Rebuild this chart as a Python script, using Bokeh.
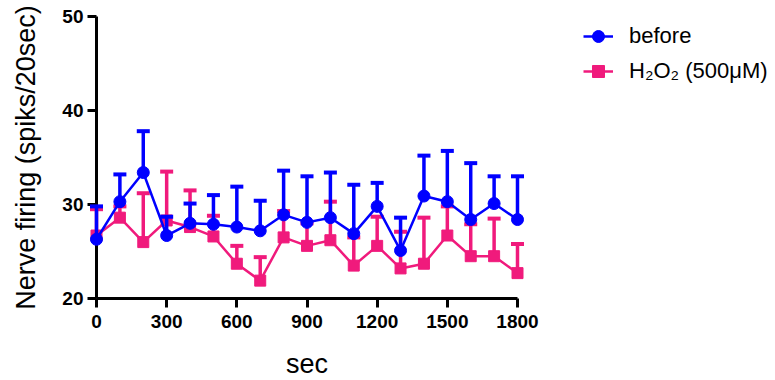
from bokeh.plotting import figure
from bokeh.models import Range1d, FixedTicker, Legend, LegendItem, ColumnDataSource
from bokeh.embed import file_html
from bokeh.resources import INLINE

secs = [0, 100, 200, 300, 400, 500, 600, 700, 800, 900, 1000, 1100, 1200, 1300, 1400, 1500, 1600, 1700, 1800]
before_mean = [26.3, 30.3, 33.4, 26.7, 28.0, 27.9, 27.6, 27.2, 28.9, 28.1, 28.6, 26.9, 29.8, 25.1, 30.9, 30.3, 28.4, 30.1, 28.4]
before_sd = [3.5, 2.9, 4.4, 2.0, 2.1, 3.1, 4.3, 3.2, 4.7, 4.9, 4.8, 5.2, 2.5, 3.5, 4.3, 5.4, 6.0, 2.9, 4.6]
h2o2_mean = [26.7, 28.6, 26.0, 28.3, 27.6, 26.6, 23.7, 21.9, 26.5, 25.6, 26.2, 23.5, 25.6, 23.2, 23.7, 26.7, 24.5, 24.5, 22.7]
h2o2_sd = [2.8, 1.2, 5.2, 5.2, 3.9, 2.2, 1.9, 2.5, 2.8, 2.4, 4.1, 3.0, 3.1, 3.9, 4.9, 3.1, 3.4, 4.0, 3.1]
x_ticks = [0, 300, 600, 900, 1200, 1500, 1800]
y_ticks = [20, 30, 40, 50]
labels = ["before", "H\u2082O\u2082 (500\u03bcM)"]

BLUE = "#0000FF"
PINK = "#F01A7C"
FONT = "Liberation Sans"

p = figure(frame_width=421, frame_height=282, output_backend="svg", toolbar_location=None,
           x_range=Range1d(0, 1800), y_range=Range1d(20, 50),
           min_border_left=96, min_border_top=16, min_border_bottom=80, min_border_right=20)
p.outline_line_color = None
p.grid.visible = False
p.background_fill_color = None
p.border_fill_color = None

for ax in (p.xaxis[0], p.yaxis[0]):
    ax.axis_line_width = 3
    ax.major_tick_line_width = 3
    ax.major_tick_out = 9
    ax.major_tick_in = 0
    ax.minor_tick_line_color = None
    ax.major_label_text_font = FONT
    ax.major_label_text_font_style = "bold"
    ax.major_label_text_font_size = "19px"
    ax.major_label_text_color = "black"
    ax.axis_label_text_font = FONT
    ax.axis_label_text_font_style = "normal"
    ax.axis_label_text_font_size = "27px"
    ax.axis_label_text_color = "black"
    ax.axis_line_color = "black"
    ax.major_tick_line_color = "black"

p.xaxis[0].ticker = FixedTicker(ticks=x_ticks)
p.yaxis[0].ticker = FixedTicker(ticks=y_ticks)
p.xaxis[0].axis_label = "sec"
p.yaxis[0].axis_label = "Nerve firing (spiks/20sec)"
p.xaxis[0].major_label_standoff = 7
p.yaxis[0].major_label_standoff = 4
p.xaxis[0].axis_label_standoff = 18
p.yaxis[0].axis_label_standoff = 18

items = []
for mean, sd, color, marker, size, label in [
    (h2o2_mean, h2o2_sd, PINK, "square", 11, labels[1]),
    (before_mean, before_sd, BLUE, "circle", 12, labels[0]),
]:
    top = [m + s for m, s in zip(mean, sd)]
    src = ColumnDataSource(dict(x=secs, y=mean, top=top))
    seg = p.segment(x0="x", y0="y", x1="x", y1="top", source=src, line_color=color, line_width=3.5)
    cap = p.scatter(x="x", y="top", source=src, marker="dash", size=13, line_color=color, line_width=4)
    ln = p.line(x="x", y="y", source=src, line_color=color, line_width=2.5)
    sc = p.scatter(x="x", y="y", source=src, marker=marker, size=size, fill_color=color, line_color=color)
    for r in (seg, cap, ln, sc):
        r.level = "overlay"
    items.append(LegendItem(label=label, renderers=[ln, sc]))

legend = Legend(items=items[::-1], location=(66, 212), border_line_color=None,
                background_fill_alpha=0, padding=0, margin=0, spacing=5,
                glyph_width=30, glyph_height=30, label_standoff=16,
                label_text_font=FONT, label_text_font_size="22px", label_text_color="black")
p.add_layout(legend, "right")

open("out.html", "w").write(file_html(p, INLINE))
